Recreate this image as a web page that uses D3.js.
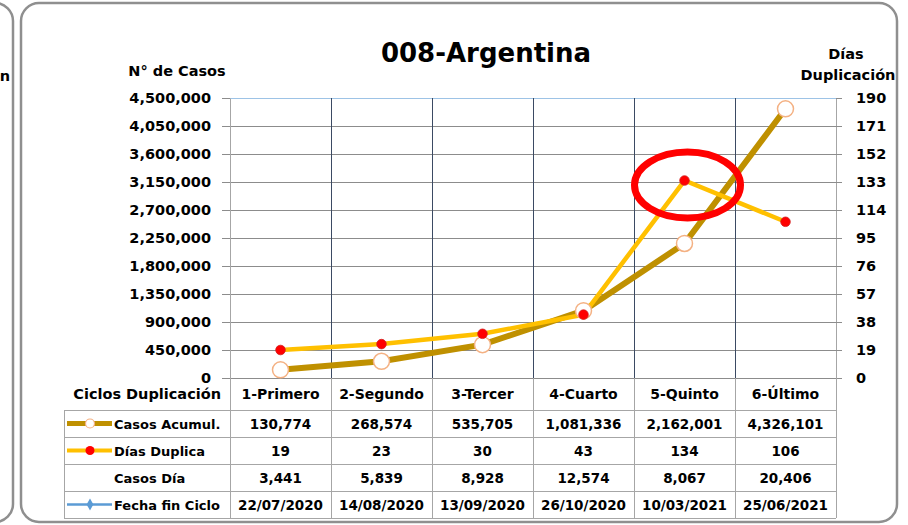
<!DOCTYPE html>
<html>
<head>
<meta charset="utf-8">
<script src="https://cdn.jsdelivr.net/npm/d3@7"></script>
<style>
  body { margin: 0; background: #fff; }
  svg { display: block; font-family: 'DejaVu Sans', sans-serif; font-weight: bold; }
</style>
</head>
<body>
<div id="chart"></div>
<script>
/* global d3 */

const categories = ['1-Primero', '2-Segundo', '3-Tercer', '4-Cuarto', '5-Quinto', '6-Último'];
const casosAcumul = [130774, 268574, 535705, 1081336, 2162001, 4326101];
const diasDuplica = [19, 23, 30, 43, 134, 106];
const casosDia = [3441, 5839, 8928, 12574, 8067, 20406];
const fechaFin = ['22/07/2020', '14/08/2020', '13/09/2020', '26/10/2020', '10/03/2021', '25/06/2021'];
const leftTicks = [0, 450000, 900000, 1350000, 1800000, 2250000, 2700000, 3150000, 3600000, 4050000, 4500000];
const rightTicks = [0, 19, 38, 57, 76, 95, 114, 133, 152, 171, 190];
const highlightIndex = 4;

const width = 908;
const height = 525;
const plot = { left: 230, right: 836, top: 98, bottom: 378 };
const table = { left: 64, top: 410, rowH: 27 };

const fmt = d3.format(',');

const svg = d3.select('#chart').append('svg')
  .attr('width', width)
  .attr('height', height);

// panel frames (previous chart cut at the left, this one)
svg.append('rect')
  .attr('x', -880).attr('y', 3)
  .attr('width', 893).attr('height', 519)
  .attr('rx', 18)
  .style('fill', 'none')
  .style('stroke', '#8f8f8f')
  .style('stroke-width', 2.5);

svg.append('text')
  .attr('x', 10).attr('y', 81)
  .style('text-anchor', 'end')
  .style('font-size', '14.5px')
  .text('Duplicación');

svg.append('rect')
  .attr('x', 21).attr('y', 3)
  .attr('width', 876).attr('height', 519)
  .attr('rx', 18)
  .style('fill', '#fff')
  .style('stroke', '#8f8f8f')
  .style('stroke-width', 2.5);

const x = d3.scaleBand()
  .domain(categories)
  .range([plot.left, plot.right]);

const cx = (d, i) => x(categories[i]) + x.bandwidth() / 2;

const yLeft = d3.scaleLinear()
  .domain([0, 4500000])
  .range([plot.bottom, plot.top]);

const yRight = d3.scaleLinear()
  .domain([0, 190])
  .range([plot.bottom, plot.top]);

// horizontal gridlines
svg.append('g')
  .attr('class', 'hGrid')
  .style('shape-rendering', 'crispEdges')
  .selectAll('line')
  .data(leftTicks)
  .join('line')
  .attr('x1', plot.left)
  .attr('x2', plot.right)
  .attr('y1', (d) => yLeft(d) + 0.5)
  .attr('y2', (d) => yLeft(d) + 0.5)
  .style('stroke', (d) => (d === 4500000 ? '#9dc3e6' : '#8c8c8c'))
  .style('stroke-width', 1);

// vertical category gridlines
svg.append('g')
  .attr('class', 'vGrid')
  .style('shape-rendering', 'crispEdges')
  .selectAll('line')
  .data(categories.slice(1))
  .join('line')
  .attr('x1', (d) => x(d) + 0.5)
  .attr('x2', (d) => x(d) + 0.5)
  .attr('y1', plot.top)
  .attr('y2', plot.bottom)
  .style('stroke', '#3b4a63')
  .style('stroke-width', 1);

// left axis
const leftAxis = svg.append('g')
  .attr('transform', `translate(${plot.left},0)`)
  .call(d3.axisLeft(yLeft)
    .tickValues(leftTicks)
    .tickFormat(fmt)
    .tickSizeInner(8)
    .tickSizeOuter(0)
    .tickPadding(11));

// right axis
const rightAxis = svg.append('g')
  .attr('transform', `translate(${plot.right},0)`)
  .call(d3.axisRight(yRight)
    .tickValues(rightTicks)
    .tickSizeInner(6)
    .tickSizeOuter(0)
    .tickPadding(14));

[leftAxis, rightAxis].forEach((ax) => {
  ax.attr('font-family', null).attr('font-size', null);
  ax.select('.domain').style('stroke', '#a6a6a6');
  ax.selectAll('.tick line').style('stroke', '#8c8c8c');
  ax.selectAll('.tick text')
    .style('font-size', '14.5px')
    .style('fill', '#000');
});

// axis titles
svg.append('text')
  .attr('x', 177).attr('y', 76)
  .style('text-anchor', 'middle')
  .style('font-size', '14.5px')
  .text('N° de Casos');

svg.append('text')
  .attr('x', 846).attr('y', 59)
  .style('text-anchor', 'middle')
  .style('font-size', '14.5px')
  .text('Días');

svg.append('text')
  .attr('x', 848).attr('y', 80)
  .style('text-anchor', 'middle')
  .style('font-size', '14.5px')
  .text('Duplicación');

// title
svg.append('text')
  .attr('x', 486).attr('y', 62)
  .style('text-anchor', 'middle')
  .style('font-size', '26px')
  .text('008-Argentina');

// series lines
const casosLine = d3.line()
  .x(cx)
  .y((d) => yLeft(d));

const diasLine = d3.line()
  .x(cx)
  .y((d) => yRight(d));

svg.append('path')
  .datum(casosAcumul)
  .attr('d', casosLine)
  .style('fill', 'none')
  .style('stroke', '#bf9000')
  .style('stroke-width', 6);

svg.append('path')
  .datum(diasDuplica)
  .attr('d', diasLine)
  .style('fill', 'none')
  .style('stroke', '#ffc000')
  .style('stroke-width', 4.5);

svg.append('g')
  .selectAll('circle')
  .data(casosAcumul)
  .join('circle')
  .attr('cx', cx)
  .attr('cy', (d) => yLeft(d))
  .attr('r', 8)
  .style('fill', '#fff')
  .style('stroke', '#f4b183')
  .style('stroke-width', 1.5);

svg.append('g')
  .selectAll('circle')
  .data(diasDuplica)
  .join('circle')
  .attr('cx', cx)
  .attr('cy', (d) => yRight(d))
  .attr('r', 4.8)
  .style('fill', '#ff0000')
  .style('stroke', '#d02020')
  .style('stroke-width', 0.8);

// highlight ring around the 5th cycle
svg.append('ellipse')
  .attr('cx', cx(null, highlightIndex) + 3)
  .attr('cy', yRight(diasDuplica[highlightIndex]) + 4.5)
  .attr('rx', 53)
  .attr('ry', 33)
  .style('fill', 'none')
  .style('stroke', '#ff0000')
  .style('stroke-width', 7);

// data table
const tableBottom = table.top + table.rowH * 4;
const gridColor = '#a6a6a6';

const tableGroup = svg.append('g').attr('class', 'dataTable');

const lines = tableGroup.append('g').style('shape-rendering', 'crispEdges');

// column separators (header row and table)
lines.selectAll('line.col')
  .data(x.domain().concat(['end']))
  .join('line')
  .attr('class', 'col')
  .attr('x1', (d) => (d === 'end' ? plot.right : x(d)) + 0.5)
  .attr('x2', (d) => (d === 'end' ? plot.right : x(d)) + 0.5)
  .attr('y1', plot.bottom)
  .attr('y2', tableBottom)
  .style('stroke', gridColor)
  .style('stroke-width', 1.5);

lines.selectAll('line.row')
  .data(d3.range(5))
  .join('line')
  .attr('class', 'row')
  .attr('x1', table.left)
  .attr('x2', plot.right)
  .attr('y1', (d) => table.top + d * table.rowH + 0.5)
  .attr('y2', (d) => table.top + d * table.rowH + 0.5)
  .style('stroke', gridColor)
  .style('stroke-width', 1.5);

lines.append('line')
  .attr('x1', table.left + 0.5).attr('x2', table.left + 0.5)
  .attr('y1', table.top).attr('y2', tableBottom)
  .style('stroke', gridColor)
  .style('stroke-width', 1.5);

// header row
tableGroup.append('text')
  .attr('x', 221).attr('y', 399)
  .style('text-anchor', 'end')
  .style('font-size', '14.5px')
  .text('Ciclos Duplicación');

tableGroup.selectAll('text.cat')
  .data(categories)
  .join('text')
  .attr('class', 'cat')
  .attr('x', cx)
  .attr('y', 399)
  .style('text-anchor', 'middle')
  .style('font-size', '14px')
  .text((d) => d);

const rows = [
  { label: 'Casos Acumul.', values: casosAcumul.map(fmt), key: 'casos' },
  { label: 'Días Duplica', values: diasDuplica.map(String), key: 'dias' },
  { label: 'Casos Día', values: casosDia.map(fmt), key: 'none' },
  { label: 'Fecha fin Ciclo', values: fechaFin, key: 'fecha' },
];

rows.forEach((row, r) => {
  const midY = table.top + table.rowH * r + table.rowH / 2;

  tableGroup.append('text')
    .attr('x', 114).attr('y', midY + 5)
    .style('font-size', '13px')
    .text(row.label);

  tableGroup.selectAll(`text.v${r}`)
    .data(row.values)
    .join('text')
    .attr('class', `v${r}`)
    .attr('x', cx)
    .attr('y', midY + 5)
    .style('text-anchor', 'middle')
    .style('font-size', '13.5px')
    .text((d) => d);

  // legend keys
  if (row.key === 'casos') {
    tableGroup.append('line')
      .attr('x1', 67).attr('x2', 112).attr('y1', midY).attr('y2', midY)
      .style('stroke', '#bf9000').style('stroke-width', 5);
    tableGroup.append('circle')
      .attr('cx', 90).attr('cy', midY).attr('r', 4.5)
      .style('fill', '#fff').style('stroke', '#f4b183').style('stroke-width', 1.2);
  } else if (row.key === 'dias') {
    tableGroup.append('line')
      .attr('x1', 67).attr('x2', 112).attr('y1', midY).attr('y2', midY)
      .style('stroke', '#ffc000').style('stroke-width', 4);
    tableGroup.append('circle')
      .attr('cx', 90).attr('cy', midY).attr('r', 4.5)
      .style('fill', '#ff0000');
  } else if (row.key === 'fecha') {
    tableGroup.append('line')
      .attr('x1', 67).attr('x2', 112).attr('y1', midY).attr('y2', midY)
      .style('stroke', '#5b9bd5').style('stroke-width', 2.5);
    tableGroup.append('path')
      .attr('d', d3.symbol(d3.symbolDiamond, 40)())
      .attr('transform', `translate(90,${midY})`)
      .style('fill', '#5b9bd5');
  }
});
</script>
</body>
</html>
